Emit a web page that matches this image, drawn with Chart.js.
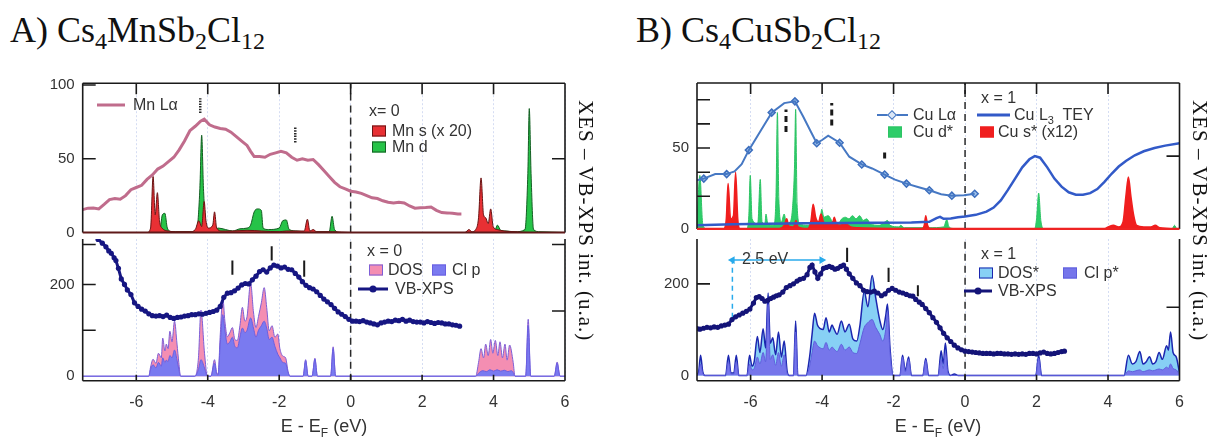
<!DOCTYPE html>
<html>
<head>
<meta charset="utf-8">
<script src="https://cdn.jsdelivr.net/npm/chart.js@4.4.0/dist/chart.umd.min.js"></script>
<style>
  body { margin: 0; background: #fff; }
  #wrap { position: relative; width: 1219px; height: 438px; overflow: hidden; background: #fff; }
  canvas { position: absolute; }
  .titulo { position: absolute; font-family: "Liberation Serif", "Times New Roman", serif; font-size: 36px; line-height: 36px; color: #111; white-space: nowrap; }
  .titulo sub { font-size: 24px; vertical-align: -7px; line-height: 0; }
  .lateral { position: absolute; font-family: "Liberation Serif", "Times New Roman", serif; font-size: 21px; line-height: 24px; letter-spacing: 1px; color: #111; white-space: nowrap; transform-origin: 0 0; transform: rotate(90deg); }
  .leg { position: absolute; font-family: "Liberation Sans", Arial, sans-serif; font-size: 16px; line-height: 16px; color: #333; white-space: nowrap; transform: translateY(-50%); }
  .leg sub { font-size: 11px; line-height: 0; }
  .caixa { position: absolute; width: 14px; height: 11px; transform: translateY(-50%); box-sizing: border-box; border: 1.5px solid; }
  .traco { position: absolute; transform: translateY(-50%); }
  .ponto { position: absolute; width: 7px; height: 7px; border-radius: 50%; transform: translate(-50%, -50%); }
  .losango { position: absolute; width: 7px; height: 7px; box-sizing: border-box; border: 1.5px solid; background: #dbe7f7; transform: translate(-50%, -50%) rotate(45deg); }
  .eixo { position: absolute; font-family: "Liberation Sans", Arial, sans-serif; font-size: 18px; color: #333; transform: translate(-50%, -50%); white-space: nowrap; }
  .eixo sub { font-size: 12px; }
</style>
</head>
<body>
<div id="wrap">
  <canvas id="aBaixo"></canvas>
  <canvas id="aCima"></canvas>
  <canvas id="bBaixo"></canvas>
  <canvas id="bCima"></canvas>

  <div class="titulo" style="left:10px;top:12px">A) Cs<sub>4</sub>MnSb<sub>2</sub>Cl<sub>12</sub></div>
  <div class="titulo" style="left:636px;top:12px">B) Cs<sub>4</sub>CuSb<sub>2</sub>Cl<sub>12</sub></div>

  <div class="lateral" style="left:598px;top:100px">XES – VB-XPS int. (u.a.)</div>
  <div class="lateral" style="left:1212px;top:100px">XES – VB-XPS int. (u.a.)</div>

  <div class="eixo" style="left:324px;top:428px">E - E<sub>F</sub> (eV)</div>
  <div class="eixo" style="left:938px;top:428px">E - E<sub>F</sub> (eV)</div>

  <!-- legendas A -->
  <div class="traco" style="left:97px;top:105px;width:28px;height:3px;background:rgb(192,108,140)"></div>
  <div class="leg" style="left:133px;top:105px">Mn Lα</div>
  <div class="leg" style="left:369px;top:111px">x= 0</div>
  <div class="caixa" style="left:372px;top:131px;background:rgb(232,48,52);border-color:rgb(105,20,20)"></div>
  <div class="leg" style="left:392px;top:131px">Mn s (x 20)</div>
  <div class="caixa" style="left:372px;top:147px;background:rgb(38,195,72);border-color:rgb(20,95,35)"></div>
  <div class="leg" style="left:392px;top:147px">Mn d</div>

  <div class="leg" style="left:367px;top:251px">x = 0</div>
  <div class="caixa" style="left:369px;top:270px;background:rgb(244,142,178);border-color:rgb(125,95,215)"></div>
  <div class="leg" style="left:388px;top:270px">DOS</div>
  <div class="caixa" style="left:432px;top:270px;background:rgb(122,122,240);border-color:rgb(105,95,225)"></div>
  <div class="leg" style="left:452px;top:270px">Cl p</div>
  <div class="traco" style="left:358px;top:289px;width:30px;height:3px;background:rgb(22,22,130)"></div>
  <div class="ponto" style="left:373px;top:289px;background:rgb(22,22,130)"></div>
  <div class="leg" style="left:395px;top:289px">VB-XPS</div>

  <!-- legendas B -->
  <div class="leg" style="left:981px;top:98px">x = 1</div>
  <div class="traco" style="left:877px;top:115px;width:31px;height:2px;background:rgb(70,120,195)"></div>
  <div class="losango" style="left:892px;top:115px;border-color:rgb(70,120,195)"></div>
  <div class="leg" style="left:913px;top:115px">Cu Lα</div>
  <div class="traco" style="left:977px;top:115px;width:33px;height:3px;background:rgb(50,90,200)"></div>
  <div class="leg" style="left:1014px;top:115px">Cu L<sub>3</sub>&nbsp; TEY</div>
  <div class="caixa" style="left:888px;top:132px;background:rgb(45,205,105);border-color:rgb(45,195,100)"></div>
  <div class="leg" style="left:913px;top:132px">Cu d*</div>
  <div class="caixa" style="left:980px;top:132px;background:rgb(240,30,30);border-color:rgb(240,30,30)"></div>
  <div class="leg" style="left:998px;top:132px">Cu s* (x12)</div>

  <div class="leg" style="left:981px;top:254px">x = 1</div>
  <div class="caixa" style="left:979px;top:273px;background:rgb(135,208,245);border-color:rgb(28,38,175)"></div>
  <div class="leg" style="left:998px;top:273px">DOS*</div>
  <div class="caixa" style="left:1063px;top:273px;background:rgb(118,118,235);border-color:rgb(95,95,220)"></div>
  <div class="leg" style="left:1084px;top:273px">Cl p*</div>
  <div class="traco" style="left:964px;top:291px;width:28px;height:3px;background:rgb(20,20,120)"></div>
  <div class="ponto" style="left:978px;top:291px;background:rgb(20,20,120)"></div>
  <div class="leg" style="left:998px;top:291px">VB-XPS</div>
  <div class="leg" style="left:742px;top:259px">2.5 eV</div>
</div>

<script>
// marcas do eixo de energia (eV)
const xTicks = [-6, -4, -2, 0, 2, 4, 6];

// ---- A) Cs4MnSb2Cl12, painel de cima ----
const mnLa = [[-7.5,15.5],[-7.35,16.5],[-7.2,16.6],[-7.05,16],[-6.9,19],[-6.75,22.3],[-6.6,23],[-6.45,22.5],[-6.3,25],[-6.15,29],[-6.0,30.5],[-5.85,32],[-5.7,36],[-5.55,39],[-5.4,43],[-5.25,45],[-5.1,48],[-4.95,51],[-4.8,56],[-4.65,62],[-4.5,69],[-4.35,72],[-4.2,75.5],[-4.1,76.8],[-3.95,73],[-3.8,71.5],[-3.65,70.5],[-3.5,70],[-3.35,68],[-3.2,65],[-3.05,62],[-2.9,59],[-2.8,55],[-2.7,51.5],[-2.55,51.5],[-2.4,51],[-2.25,53],[-2.1,54],[-1.95,55],[-1.8,54],[-1.65,51],[-1.5,49],[-1.35,50],[-1.2,49],[-1.05,49.5],[-0.9,46],[-0.75,42],[-0.6,38],[-0.45,34],[-0.3,31],[-0.15,29.5],[0.0,28],[0.15,27.5],[0.3,26.5],[0.45,25],[0.6,23.5],[0.75,23],[0.9,21.5],[1.05,20.5],[1.2,20],[1.35,20.5],[1.5,20],[1.65,18],[1.8,16.5],[1.95,16.8],[2.1,17],[2.25,17.3],[2.4,15],[2.55,13.5],[2.7,13.3],[2.85,13],[3.0,12.5],[3.1,12.5]];
const mnS = [[-7.5,0],[-5.7,0],[-5.6,3],[-5.53,38],[-5.47,12],[-5.41,27],[-5.35,8],[-5.28,3],[-5.1,1],[-4.9,0.5],[-4.5,0.5],[-4.35,2],[-4.25,8],[-4.17,4],[-4.1,21],[-4.05,8],[-3.98,3],[-3.86,5],[-3.81,14],[-3.75,3],[-3.6,1],[-3.3,1],[-2.9,1.5],[-2.5,1],[-2.0,0.5],[-1.8,1],[-1.3,1],[-1.21,9],[-1.14,1],[-1.05,2],[-0.95,0.5],[-0.5,0.5],[0,0],[3.2,0],[3.31,2],[3.4,0.5],[3.5,2],[3.58,10],[3.65,37],[3.72,12],[3.78,10],[3.85,6],[3.92,16],[3.99,4],[4.1,2],[4.3,1],[4.6,0.5],[5.0,0],[6,0]];
const mnD = [[-7.5,0],[-5.35,0],[-5.27,12],[-5.2,13],[-5.13,3],[-5.0,0.5],[-4.4,0.5],[-4.3,3],[-4.22,30],[-4.17,66],[-4.12,30],[-4.05,5],[-3.9,2],[-3.7,3],[-3.5,2],[-3.3,1],[-3.1,2.5],[-2.9,3],[-2.8,5],[-2.7,14],[-2.6,16],[-2.5,15],[-2.45,3],[-2.3,2],[-2.0,3],[-1.9,8],[-1.8,8.5],[-1.72,2],[-1.5,1],[-1.3,0.5],[-0.6,0.5],[-0.52,11],[-0.45,2],[-0.3,0],[3.9,0],[4.05,2],[4.11,5],[4.2,1.5],[4.35,1],[4.6,0.5],[4.88,2],[4.96,40],[5.0,84],[5.05,40],[5.12,2],[5.3,0.5],[6,0]];
// marcas pontilhadas: energia, inicio, fim
const aCimaMarcas = [[-4.21,81,91],[-1.55,61,72]];

// ---- A) painel de baixo ----
const vbA = [[-7.07,298],[-6.95,290],[-6.85,282],[-6.77,273],[-6.7,268],[-6.62,258],[-6.57,252],[-6.5,235],[-6.42,212],[-6.33,200],[-6.25,188],[-6.15,178],[-6.05,160],[-5.95,152],[-5.85,146],[-5.75,142],[-5.65,136],[-5.55,132],[-5.45,131],[-5.35,132],[-5.25,130],[-5.15,133],[-5.05,128],[-4.95,126],[-4.85,128],[-4.75,129],[-4.65,131],[-4.55,132],[-4.45,134],[-4.35,134],[-4.25,136],[-4.15,135],[-4.05,137],[-3.95,139],[-3.85,141],[-3.75,144],[-3.65,152],[-3.55,172],[-3.45,181],[-3.35,182],[-3.25,186],[-3.15,192],[-3.05,199],[-2.95,202],[-2.85,201],[-2.75,210],[-2.65,218],[-2.55,228],[-2.45,232],[-2.35,227],[-2.25,236],[-2.15,242],[-2.05,240],[-1.95,236],[-1.85,238],[-1.75,233],[-1.65,232],[-1.55,224],[-1.45,216],[-1.35,206],[-1.25,198],[-1.15,193],[-1.05,190],[-0.95,184],[-0.85,176],[-0.75,168],[-0.65,162],[-0.55,156],[-0.45,148],[-0.35,140],[-0.25,135],[-0.15,130],[-0.05,124],[0.05,120],[0.15,120],[0.25,119],[0.35,121],[0.45,118],[0.55,116],[0.65,114],[0.75,112],[0.85,116],[0.95,118],[1.05,120],[1.15,119],[1.25,122],[1.35,121],[1.45,124],[1.55,120],[1.65,122],[1.75,119],[1.85,118],[1.95,118],[2.05,116],[2.15,119],[2.25,117],[2.35,115],[2.45,117],[2.55,116],[2.65,114],[2.75,114],[2.85,112],[2.95,111],[3.05,109]];
const dosA = [[-7.5,0],[-5.65,0],[-5.6,20],[-5.53,37],[-5.45,28],[-5.38,50],[-5.3,40],[-5.26,83],[-5.2,55],[-5.16,70],[-5.11,60],[-5.06,98],[-5.0,75],[-4.93,120],[-4.86,70],[-4.81,30],[-4.76,0],[-4.36,0],[-4.26,40],[-4.19,144],[-4.09,50],[-4.01,0],[-3.91,0],[-3.81,36],[-3.75,8],[-3.71,5],[-3.65,90],[-3.58,172],[-3.52,120],[-3.45,86],[-3.38,95],[-3.31,106],[-3.24,80],[-3.17,78],[-3.1,110],[-3.03,150],[-2.96,120],[-2.9,130],[-2.8,203],[-2.72,140],[-2.65,106],[-2.58,130],[-2.5,160],[-2.42,193],[-2.35,150],[-2.28,99],[-2.2,110],[-2.12,85],[-2.04,92],[-1.98,60],[-1.9,44],[-1.82,40],[-1.75,10],[-1.7,0],[-1.33,0],[-1.26,36],[-1.19,0],[-1.08,0],[-1.0,39],[-0.93,0],[-0.56,0],[-0.49,64],[-0.42,0],[3.5,0],[3.58,30],[3.65,60],[3.72,40],[3.78,70],[3.85,45],[3.92,80],[3.98,50],[4.05,78],[4.12,45],[4.18,75],[4.25,40],[4.32,70],[4.38,35],[4.45,68],[4.55,30],[4.6,0],[4.9,0],[4.97,124],[5.04,0],[5.7,0],[5.78,31],[5.86,0],[6,0]];
const clpA = [[-7.5,0],[-5.65,0],[-5.6,15],[-5.53,25],[-5.45,18],[-5.38,30],[-5.3,22],[-5.26,40],[-5.2,30],[-5.16,35],[-5.11,32],[-5.06,45],[-5.0,40],[-4.93,57],[-4.86,35],[-4.81,15],[-4.76,0],[-4.36,0],[-4.26,15],[-4.19,36],[-4.09,18],[-4.01,0],[-3.91,0],[-3.81,28],[-3.75,5],[-3.71,3],[-3.65,70],[-3.58,134],[-3.52,100],[-3.45,70],[-3.38,75],[-3.31,85],[-3.24,65],[-3.17,62],[-3.1,85],[-3.03,105],[-2.96,95],[-2.9,100],[-2.8,127],[-2.72,105],[-2.65,85],[-2.58,100],[-2.5,110],[-2.42,120],[-2.35,105],[-2.28,80],[-2.2,85],[-2.12,65],[-2.04,48],[-1.98,40],[-1.9,30],[-1.82,28],[-1.75,8],[-1.7,0],[-1.33,0],[-1.26,34],[-1.19,0],[-1.08,0],[-1.0,37],[-0.93,0],[-0.56,0],[-0.49,60],[-0.42,0],[3.5,0],[3.6,8],[3.7,12],[3.8,10],[3.9,14],[4.0,11],[4.1,14],[4.2,11],[4.3,13],[4.4,10],[4.5,12],[4.55,8],[4.6,0],[4.9,0],[4.97,110],[5.04,0],[5.7,0],[5.78,28],[5.86,0],[6,0]];
const aBaixoMarcas = [[-3.31,221,252],[-2.21,252,283],[-1.30,217,252]];

// ---- B) Cs4CuSb2Cl12, painel de cima ----
const cuLa = [[-7.5,30],[-7.31,31],[-6.99,33.8],[-6.67,33.8],[-6.45,35.5],[-6.25,40],[-6.05,48.7],[-5.71,61],[-5.41,72],[-5.06,77.9],[-4.76,79],[-4.53,69.6],[-4.31,60],[-4.15,53],[-4.0,55],[-3.83,57.7],[-3.51,53.3],[-3.24,44.6],[-2.89,39.8],[-2.6,37.3],[-2.25,33.5],[-1.96,30.4],[-1.64,27.9],[-1.32,25.8],[-1.0,23.75],[-0.67,21.25],[-0.37,20.4],[-0.03,20.6],[0.27,21.6]];
const cuLaSimbolos = [[-7.31,31],[-6.67,33.8],[-6.05,48.7],[-5.41,72],[-4.76,79],[-4.15,53],[-3.51,53.3],[-2.89,39.8],[-2.25,33.5],[-1.64,27.9],[-1.0,23.75],[-0.37,20.4],[0.27,21.6]];
const cuTey = [[-7.5,2],[-6.5,2.6],[-5.5,3],[-4.5,3.2],[-3.5,3.4],[-2.5,3.6],[-1.5,3.8],[-1.0,4.2],[-0.8,6.5],[-0.7,7.2],[-0.6,6],[-0.4,6.2],[-0.2,7],[0,7.5],[0.3,8.5],[0.6,10.5],[0.8,13],[1.0,17.5],[1.2,24],[1.4,31],[1.6,38],[1.8,43],[1.95,45],[2.1,44],[2.3,38],[2.5,31],[2.7,26],[2.9,22.5],[3.1,21],[3.3,21],[3.5,22],[3.7,24.5],[3.9,29],[4.1,34],[4.3,38.5],[4.5,42],[4.75,45.5],[5.0,48],[5.3,50],[5.6,51.5],[6.0,53]];
const cuD = [[-7.5,4],[-7.42,33],[-7.34,3],[-7.25,0],[-6.1,0],[-6.05,8],[-6.01,33],[-5.96,6],[-5.8,3],[-5.73,30.5],[-5.68,4],[-5.6,3],[-5.57,9],[-5.52,3],[-5.35,2],[-5.29,20],[-5.25,72],[-5.21,18],[-5.14,4],[-5.06,9],[-5.0,3],[-4.9,4],[-4.83,12],[-4.77,40],[-4.74,74],[-4.7,15],[-4.63,3],[-4.4,2],[-4.2,3],[-4.05,6],[-4.01,12],[-3.95,7],[-3.83,8],[-3.7,4],[-3.55,3],[-3.45,6],[-3.35,7],[-3.25,6],[-3.15,8],[-3.05,6],[-2.95,8],[-2.85,5],[-2.75,6],[-2.65,3],[-2.4,2],[-2.25,4],[-2.17,5],[-2.1,2],[-1.85,1],[-1.8,2],[-1.7,0.5],[-1.0,0.5],[-0.6,1],[-0.51,5.5],[-0.45,1],[-0.3,0],[1.95,0],[2.0,6],[2.06,22],[2.12,5],[2.2,0],[5.8,0],[5.86,2],[5.92,0],[6,0]];
const cuS = [[-7.5,0],[-6.75,0],[-6.68,6],[-6.63,28],[-6.56,6],[-6.48,8],[-6.42,35],[-6.36,6],[-6.3,0],[-5.2,0],[-5.06,2],[-4.99,6],[-4.93,1.5],[-4.8,1],[-4.73,5],[-4.67,1],[-4.4,0],[-4.31,5],[-4.25,15],[-4.18,7],[-4.1,4],[-4.03,9],[-3.96,4],[-3.85,3],[-3.7,4],[-3.66,7],[-3.6,3],[-3.5,2],[-3.35,3],[-3.2,1],[-3.0,0.5],[-1.2,0],[-1.14,2],[-1.1,8],[-1.05,2],[-0.98,0],[3.9,0],[4.05,1.5],[4.15,2],[4.3,1],[4.42,4],[4.5,20],[4.57,32],[4.64,20],[4.72,8],[4.8,2],[5.0,1],[5.2,1],[5.32,2],[5.45,0.5],[6,0]];
const bCimaMarcas = [[-5.01,60,74],[-3.73,64,78],[-2.25,43.5,47.7]];

// ---- B) painel de baixo ----
const vbB = [[-7.5,102],[-7.42,101],[-7.32,103],[-7.22,105],[-7.12,104],[-7.02,106],[-6.92,105],[-6.82,108],[-6.72,110],[-6.62,112],[-6.52,122],[-6.42,128],[-6.32,132],[-6.22,136],[-6.12,140],[-6.02,145],[-5.92,158],[-5.84,170],[-5.76,172],[-5.68,168],[-5.6,162],[-5.52,164],[-5.44,168],[-5.36,171],[-5.28,174],[-5.2,176],[-5.1,182],[-5.0,192],[-4.9,196],[-4.8,200],[-4.7,206],[-4.62,210],[-4.52,212],[-4.42,220],[-4.34,236],[-4.28,241],[-4.2,226],[-4.12,212],[-4.04,222],[-3.96,234],[-3.88,236],[-3.8,238],[-3.72,236],[-3.64,232],[-3.56,234],[-3.48,238],[-3.4,241],[-3.32,232],[-3.24,222],[-3.14,212],[-3.04,202],[-2.94,196],[-2.84,186],[-2.74,183],[-2.64,182],[-2.54,184],[-2.44,180],[-2.34,174],[-2.24,178],[-2.14,186],[-2.04,190],[-1.94,186],[-1.84,182],[-1.74,180],[-1.64,177],[-1.54,174],[-1.46,173],[-1.38,166],[-1.28,160],[-1.2,155],[-1.1,146],[-1.0,137],[-0.9,126],[-0.8,116],[-0.7,104],[-0.6,92],[-0.5,82],[-0.4,74],[-0.3,66],[-0.2,60],[-0.1,56],[0.0,53],[0.1,52],[0.2,51],[0.3,50],[0.4,49],[0.5,48],[0.6,48],[0.7,48],[0.8,47],[0.9,48],[1.0,48],[1.1,47],[1.2,47],[1.3,46],[1.4,47],[1.5,46],[1.6,47],[1.7,46],[1.8,48],[1.9,48],[2.0,47],[2.1,49],[2.2,51],[2.3,48],[2.4,47],[2.5,48],[2.6,50],[2.7,52],[2.78,53]];
const dosB = [[-7.5,0],[-7.45,10],[-7.4,44],[-7.34,8],[-7.28,0],[-6.7,0],[-6.62,44],[-6.55,5],[-6.47,5],[-6.4,44],[-6.33,0],[-6.1,0],[-6.03,44],[-5.96,20],[-5.9,30],[-5.81,85],[-5.74,50],[-5.65,102],[-5.58,60],[-5.51,180],[-5.45,70],[-5.38,82],[-5.3,45],[-5.22,95],[-5.14,40],[-5.06,75],[-4.98,10],[-4.92,0],[-4.8,0],[-4.74,119],[-4.68,0],[-4.45,0],[-4.35,40],[-4.28,90],[-4.21,136],[-4.13,110],[-4.05,102],[-3.97,100],[-3.89,126],[-3.8,95],[-3.72,110],[-3.67,102],[-3.58,90],[-3.46,119],[-3.36,95],[-3.24,112],[-3.14,80],[-3.03,75],[-2.94,110],[-2.82,184],[-2.72,150],[-2.6,218],[-2.5,170],[-2.39,122],[-2.3,100],[-2.22,130],[-2.17,156],[-2.1,60],[-2.01,0],[-1.82,0],[-1.75,44],[-1.67,10],[-1.58,40],[-1.5,0],[-1.18,0],[-1.1,37],[-1.02,0],[-0.75,0],[-0.67,54],[-0.61,25],[-0.55,71],[-0.48,10],[-0.4,0],[-0.3,3],[-0.2,0],[1.98,0],[2.06,44],[2.14,0],[4.45,0],[4.57,44],[4.68,25],[4.78,30],[4.89,52],[4.98,25],[5.07,30],[5.16,41],[5.25,25],[5.34,30],[5.43,50],[5.52,35],[5.64,65],[5.69,55],[5.75,95],[5.82,50],[5.91,40],[6.0,5]];
const clpB = [[-7.5,0],[-7.45,5],[-7.4,25],[-7.34,5],[-7.28,0],[-6.7,0],[-6.62,30],[-6.55,3],[-6.47,3],[-6.4,30],[-6.33,0],[-6.1,0],[-6.03,25],[-5.96,12],[-5.9,15],[-5.81,40],[-5.74,25],[-5.65,50],[-5.58,30],[-5.51,155],[-5.45,35],[-5.38,45],[-5.3,22],[-5.22,50],[-5.14,20],[-5.06,45],[-4.98,5],[-4.92,0],[-4.8,0],[-4.74,95],[-4.68,0],[-4.45,0],[-4.35,20],[-4.28,50],[-4.21,75],[-4.13,65],[-4.05,60],[-3.97,58],[-3.89,72],[-3.8,55],[-3.72,62],[-3.67,58],[-3.58,52],[-3.46,68],[-3.36,55],[-3.24,62],[-3.14,50],[-3.03,48],[-2.94,70],[-2.82,105],[-2.72,115],[-2.6,122],[-2.5,105],[-2.39,90],[-2.3,75],[-2.22,100],[-2.17,140],[-2.1,50],[-2.01,0],[-1.82,0],[-1.75,40],[-1.67,8],[-1.58,36],[-1.5,0],[-1.18,0],[-1.1,33],[-1.02,0],[-0.75,0],[-0.67,35],[-0.61,15],[-0.55,50],[-0.48,6],[-0.4,0],[1.98,0],[2.06,38],[2.14,0],[4.45,0],[4.57,10],[4.68,8],[4.78,10],[4.89,12],[4.98,8],[5.07,10],[5.16,12],[5.25,10],[5.34,12],[5.43,14],[5.52,12],[5.64,18],[5.69,15],[5.75,25],[5.82,15],[5.91,12],[6.0,2]];
const bBaixoMarcas = [[-3.30,248,279],[-2.14,204,235],[-1.32,173,197]];
// seta de 2.5 eV
const setaVertical = [[-6.51,126],[-6.51,252]];
const setaHorizontal = [[-6.51,252],[-4.01,252]];

const xy = lista => lista.map(p => ({ x: p[0], y: p[1] }));

function area(dados, fundo, borda, ordem, lw) {
  return { data: xy(dados), backgroundColor: fundo, borderColor: borda, borderWidth: lw || 1, fill: 'origin',
    pointRadius: 0, cubicInterpolationMode: 'monotone', order: ordem };
}

function linha(dados, cor, lw, ordem, extra) {
  return Object.assign({ data: xy(dados), borderColor: cor, borderWidth: lw, pointRadius: 0, fill: false,
    tension: 0, order: ordem }, extra || {});
}

function marcas(lista, cor, lw, dash) {
  return lista.map(m => linha([[m[0], m[1]], [m[0], m[2]]], cor, lw, 0, { borderDash: dash || [] }));
}

function zero(min, max) {
  return linha([[0, min], [0, max]], '#2a2a2a', 1.5, 1, { borderDash: [7, 5] });
}

// moldura preta com marcas para dentro
const moldura = {
  id: 'moldura',
  afterDatasetsDraw(chart, args, o) {
    const { ctx, chartArea: a } = chart;
    const sx = chart.scales.x, sy = chart.scales.y;
    ctx.save();
    ctx.lineWidth = 1.6;
    ctx.strokeStyle = '#1a1a1a';
    ctx.beginPath();
    ctx.moveTo(a.left, a.bottom); ctx.lineTo(a.left, a.top);
    ctx.moveTo(a.right, a.bottom); ctx.lineTo(a.right, a.top);
    if (!o.semTopo) { ctx.moveTo(a.left, a.top); ctx.lineTo(a.right, a.top); }
    (o.esquerda || []).forEach(v => { const y = sy.getPixelForValue(v); ctx.moveTo(a.left, y); ctx.lineTo(a.left + 13, y); });
    (o.direita || []).forEach(v => { const y = sy.getPixelForValue(v); ctx.moveTo(a.right, y); ctx.lineTo(a.right - 13, y); });
    xTicks.forEach(v => {
      const x = sx.getPixelForValue(v);
      if (o.topo) { ctx.moveTo(x, a.top); ctx.lineTo(x, a.top + 11); }
      if (o.base) { ctx.moveTo(x, a.bottom); ctx.lineTo(x, a.bottom - 6); }
    });
    ctx.stroke();
    ctx.beginPath();
    ctx.strokeStyle = o.corBase || '#1a1a1a';
    ctx.lineWidth = o.larguraBase || 1.6;
    ctx.moveTo(a.left, a.bottom); ctx.lineTo(a.right, a.bottom);
    ctx.stroke();
    ctx.restore();
  }
};
Chart.register(moldura);

function grafico(id, caixa, ar, eixoY, conjuntos, opMoldura, mostraX) {
  const cv = document.getElementById(id);
  cv.width = caixa.w; cv.height = caixa.h;
  cv.style.left = caixa.x + 'px'; cv.style.top = caixa.y + 'px';
  const larguraY = ar.l - caixa.x;
  const alturaX = mostraX ? caixa.y + caixa.h - ar.b : 0;
  return new Chart(cv, {
    type: 'line',
    data: { datasets: conjuntos },
    options: {
      responsive: false, animation: false, events: [],
      layout: { padding: { left: 0, top: ar.t - caixa.y, right: caixa.x + caixa.w - ar.r, bottom: mostraX ? 0 : caixa.y + caixa.h - ar.b } },
      plugins: { legend: { display: false }, tooltip: { enabled: false }, moldura: opMoldura },
      scales: {
        x: {
          type: 'linear', min: -7.5, max: 6,
          afterBuildTicks: s => { s.ticks = xTicks.map(v => ({ value: v })); },
          afterFit: s => { s.height = alturaX; },
          grid: { color: 'rgba(150,170,225,0.4)', drawTicks: false },
          border: { display: false, dash: [2, 2] },
          ticks: { display: mostraX, padding: 12, color: '#333', font: { size: 16 }, maxRotation: 0, autoSkip: false }
        },
        y: {
          type: 'linear', min: eixoY.min, max: eixoY.max,
          afterBuildTicks: s => { s.ticks = eixoY.rotulos.map(v => ({ value: v })); },
          afterFit: s => { s.width = larguraY; },
          grid: { display: false, drawTicks: false },
          border: { display: false },
          ticks: { padding: 8, color: '#333', font: { size: 15 }, autoSkip: false }
        }
      }
    }
  });
}

Chart.defaults.font.family = '"Liberation Sans", Arial, sans-serif';

const vbEstilo = cor => ({ pointRadius: 2.6, pointBackgroundColor: cor, pointBorderWidth: 0 });

// A, baixo
grafico('aBaixo', { x: 0, y: 222, w: 605, h: 216 }, { l: 82.7, t: 232.5, r: 565, b: 380.7 },
  { min: -9.8, max: 299, rotulos: [0, 200] },
  [
    linha(vbA, 'rgb(22,22,130)', 3, 0, vbEstilo('rgb(22,22,130)')),
    ...marcas(aBaixoMarcas, '#1a1a1a', 2),
    zero(-9.8, 299),
    area(clpA, 'rgb(122,122,240)', 'rgb(105,95,225)', 2),
    area(dosA, 'rgb(244,142,178)', 'rgb(125,95,215)', 3)
  ],
  { esquerda: [287, 200, 100], direita: [287, 142], base: true, semTopo: true }, true);

// A, cima
grafico('aCima', { x: 0, y: 60, w: 605, h: 190 }, { l: 82.7, t: 83.2, r: 565, b: 232.5 },
  { min: 0, max: 101.2, rotulos: [0, 50, 100] },
  [
    linha(mnLa, 'rgb(192,108,140)', 3, 0),
    ...marcas(aCimaMarcas, '#2a2a2a', 2.5, [1.5, 1.2]),
    zero(0, 101.2),
    area(mnS, 'rgb(232,48,52)', 'rgb(105,20,20)', 2),
    area(mnD, 'rgb(38,195,72)', 'rgb(20,95,35)', 3)
  ],
  { esquerda: [100, 50], direita: [50], topo: true, corBase: 'rgb(95,25,25)', larguraBase: 1.8 }, false);

// B, baixo
grafico('bBaixo', { x: 615, y: 222, w: 604, h: 216 }, { l: 697, t: 229, r: 1179.5, b: 380.7 },
  { min: -11.6, max: 298, rotulos: [0, 200] },
  [
    linha(vbB, 'rgb(20,20,120)', 3, 0, vbEstilo('rgb(20,20,120)')),
    ...marcas(bBaixoMarcas, '#1a1a1a', 2),
    linha(setaVertical, 'rgb(40,170,235)', 1.5, 0, { borderDash: [5, 4] }),
    linha(setaHorizontal, 'rgb(40,170,235)', 1.5, 0, {
      pointRadius: 4.5, pointStyle: 'triangle', pointBackgroundColor: 'rgb(40,170,235)', pointBorderWidth: 0,
      pointRotation: c => (c.dataIndex === 0 ? -90 : 90)
    }),
    zero(-11.6, 298),
    area(clpB, 'rgb(118,118,235)', 'rgb(95,95,220)', 2),
    area(dosB, 'rgb(135,208,245)', 'rgb(28,38,175)', 3, 1.5)
  ],
  { esquerda: [200], direita: [149], base: true, semTopo: true }, true);

// B, cima
grafico('bCima', { x: 615, y: 60, w: 604, h: 190 }, { l: 697, t: 83, r: 1179.5, b: 229 },
  { min: -0.3, max: 90.4, rotulos: [0, 50] },
  [
    linha(cuLa, 'rgb(70,120,195)', 2, 0),
    linha(cuLaSimbolos, 'rgb(70,120,195)', 0, 0, {
      showLine: false, pointRadius: 3.5, pointStyle: 'rectRot', pointBackgroundColor: 'rgb(160,195,235)',
      pointBorderColor: 'rgb(60,110,190)', pointBorderWidth: 1.5
    }),
    linha(cuTey, 'rgb(50,90,200)', 2.5, 0),
    ...marcas(bCimaMarcas, '#1a1a1a', 3, [6, 4]),
    zero(-0.3, 90.4),
    area(cuS, 'rgb(240,30,30)', 'rgb(240,30,30)', 2, 1.5),
    area(cuD, 'rgb(45,205,105)', 'rgb(45,195,100)', 3)
  ],
  { esquerda: [80, 65, 50, 35, 20], direita: [45], topo: true, corBase: 'rgb(238,35,35)', larguraBase: 2.2 }, false);
</script>
</body>
</html>
